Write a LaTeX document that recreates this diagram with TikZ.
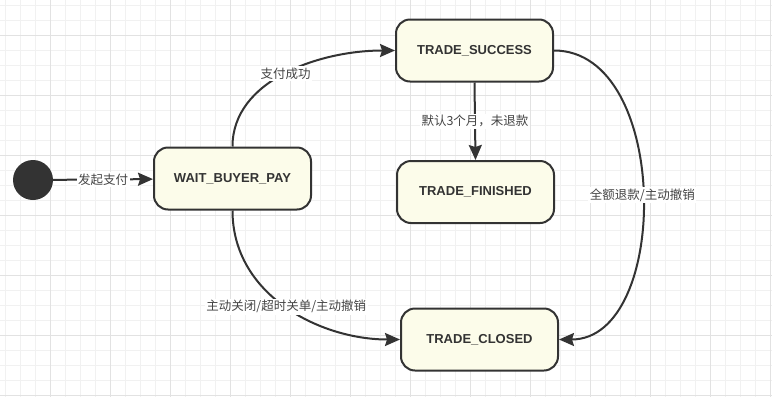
\documentclass[tikz,border=0pt]{standalone}
\usepackage{fontspec}
\setmainfont{Liberation Sans}
\newfontfamily\cjk{Noto Sans CJK SC}
\usetikzlibrary{arrows.meta}
\definecolor{minorgrid}{HTML}{F1F1F1}
\definecolor{majorgrid}{HTML}{E2E2E2}
\definecolor{statefill}{HTML}{FCFCEA}
\definecolor{ink}{HTML}{333333}
\definecolor{lbl}{HTML}{444444}
\begin{document}
\begin{tikzpicture}[x=1pt,y=-1pt,
  state/.style={draw=ink, line width=2pt, fill=statefill, rounded corners=14pt,
    minimum width=157pt, minimum height=62pt, inner sep=0pt,
    font=\fontsize{13}{15}\selectfont\bfseries, text=ink},
  trans/.style={draw=ink, line width=2pt, -{Stealth[length=15pt,width=13pt,inset=2pt]}},
  elabel/.style={fill=white, inner sep=1.5pt, font=\cjk\fontsize{12.5}{14}\selectfont, text=lbl}]
\useasboundingbox (0,0) rectangle (772,397);
\fill[white] (0,0) rectangle (772,397);
% grid
\foreach \x in {5,20,...,770} \draw[minorgrid, line width=1pt] (\x,0) -- (\x,397);
\foreach \y in {5,20,...,395} \draw[minorgrid, line width=1pt] (0,\y) -- (772,\y);
\foreach \x in {50,110,...,770} \draw[majorgrid, line width=1pt] (\x,0) -- (\x,397);
\foreach \y in {35,95,...,395} \draw[majorgrid, line width=1pt] (0,\y) -- (772,\y);
% nodes
\node[circle, fill=ink, minimum size=40pt, inner sep=0pt] (init) at (33,180) {};
\node[state] (wait) at (232.5,178.5) {WAIT\_BUYER\_PAY};
\node[state] (succ) at (474.5,50.5) {TRADE\_SUCCESS};
\node[state] (fin) at (475.5,192) {TRADE\_FINISHED};
\node[state] (closed) at (479.5,339.5) {TRADE\_CLOSED};
% transitions
\draw[trans] (init) -- node[elabel] {发起支付} (wait);
\draw[trans] (wait.north) .. controls (232.5,80) and (320,50.5) .. node[elabel, pos=0.5] {支付成功} (succ.west);
\draw[trans] (succ.south) -- node[elabel] {默认3个月，未退款} (fin.north);
\draw[trans] (succ.east) .. controls (671,50.5) and (671,339.5) .. node[elabel, pos=0.5] {全额退款/主动撤销} (closed.east);
\draw[trans] (wait.south) .. controls (232.5,295) and (320,339.5) .. node[elabel, pos=0.5] {主动关闭/超时关单/主动撤销} (closed.west);
\end{tikzpicture}
\end{document}
